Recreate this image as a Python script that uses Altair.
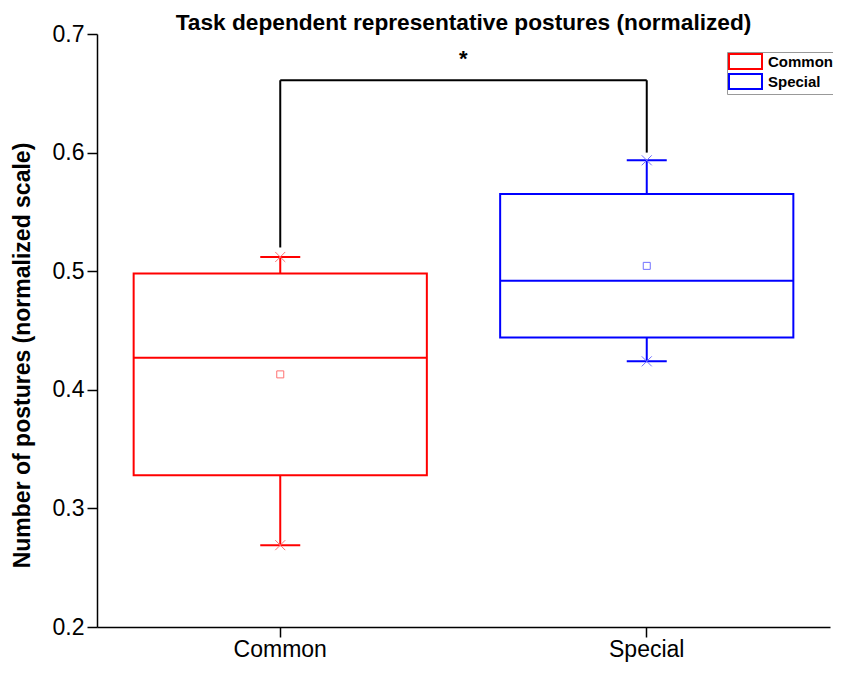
import altair as alt
import pandas as pd

# ---- data ----
groups = ["Common", "Special"]
whisker_low = [0.269, 0.424]
q1 = [0.328, 0.444]
median = [0.427, 0.492]
mean = [0.413, 0.5045]
q3 = [0.498, 0.565]
whisker_high = [0.512, 0.5935]
bracket_low = [0.520, 0.600]
bracket_top = 0.661
star_level = 0.679

colors = ["#ff0000", "#0000ff"]
light = ["#ff7070", "#7070ff"]

FONT = "Liberation Sans"

df = pd.DataFrame({
    "group": groups,
    "wlo": whisker_low,
    "q1": q1,
    "median": median,
    "mean": mean,
    "q3": q3,
    "whi": whisker_high,
    "blo": bracket_low,
    "btop": [bracket_top] * len(groups),
})
ends = pd.DataFrame({
    "group": groups + groups,
    "v": whisker_low + whisker_high,
})
bracket = pd.DataFrame({"g1": [groups[0]], "g2": [groups[1]], "y": [bracket_top]})
star = pd.DataFrame({"group": [groups[0]], "y": [star_level], "t": ["*"]})

xscale = alt.Scale(domain=groups, paddingInner=0.2, paddingOuter=0.1)
yscale = alt.Scale(domain=[0.2, 0.7], nice=False, zero=False, padding=0)
cscale = alt.Scale(domain=groups, range=colors)
lscale = alt.Scale(domain=groups, range=light)

X = alt.X("group:N", scale=xscale, sort=groups,
          axis=alt.Axis(title=None, labelAngle=0, labelPadding=1))
Y_AX = alt.Axis(title="Number of postures (normalized scale)", values=[0.2, 0.3, 0.4, 0.5, 0.6, 0.7],
                format=".1f", titleFontSize=23, titleFontWeight="bold", titleFont=FONT,
                titlePadding=18, labelPadding=3, titleY=321)

base = alt.Chart(df)

boxes = base.mark_bar(fill="transparent", strokeWidth=2).encode(
    x=X,
    y=alt.Y("q1:Q", scale=yscale, axis=Y_AX),
    y2="q3:Q",
    stroke=alt.Stroke("group:N", scale=cscale, legend=alt.Legend(
        title=None, orient="none", legendX=630, legendY=18,
        symbolType="M-2.2,-1H2.2V1H-2.2Z", symbolSize=225, symbolStrokeWidth=2,
        symbolFillColor="white", symbolOffset=9, labelOffset=14,
        labelFont=FONT, labelFontSize=15, labelFontWeight="bold", labelColor="black",
        strokeColor="#999999", fillColor="white", padding=1, rowPadding=-5)),
)

med = base.mark_tick(size=293, thickness=2, opacity=1).encode(
    x=X, y=alt.Y("median:Q", scale=yscale),
    color=alt.Color("group:N", scale=cscale, legend=None))

w_up = base.mark_rule(strokeWidth=2).encode(
    x=X, y=alt.Y("q3:Q", scale=yscale), y2="whi:Q",
    color=alt.Color("group:N", scale=cscale, legend=None))
w_dn = base.mark_rule(strokeWidth=2).encode(
    x=X, y=alt.Y("wlo:Q", scale=yscale), y2="q1:Q",
    color=alt.Color("group:N", scale=cscale, legend=None))

caps = alt.Chart(ends).mark_tick(size=40, thickness=2, opacity=1).encode(
    x=X, y=alt.Y("v:Q", scale=yscale),
    color=alt.Color("group:N", scale=cscale, legend=None))

crosses = alt.Chart(ends).mark_point(
    shape="M-1,-1L1,1M-1,1L1,-1", size=100, strokeWidth=1, filled=False, opacity=1).encode(
    x=X, y=alt.Y("v:Q", scale=yscale),
    stroke=alt.Stroke("group:N", scale=lscale, legend=None))

means = base.mark_point(shape="square", size=49, strokeWidth=1, filled=False, opacity=1).encode(
    x=X, y=alt.Y("mean:Q", scale=yscale),
    stroke=alt.Stroke("group:N", scale=lscale, legend=None))

br_v = base.mark_rule(strokeWidth=2, color="black").encode(
    x=X, y=alt.Y("blo:Q", scale=yscale), y2="btop:Q")
br_h = alt.Chart(bracket).mark_rule(strokeWidth=2, color="black").encode(
    x=alt.X("g1:N", scale=xscale), x2="g2:N", y=alt.Y("y:Q", scale=yscale))

star_t = alt.Chart(star).mark_text(
    fontSize=22, fontWeight="bold", font=FONT, dx=183, baseline="middle", color="black").encode(
    x=alt.X("group:N", scale=xscale), y=alt.Y("y:Q", scale=yscale), text="t:N")

chart = alt.layer(boxes, w_up, w_dn, caps, crosses, med, means, br_v, br_h, star_t).resolve_scale(
    stroke="independent"
).properties(
    width=733, height=593,
    title=alt.TitleParams("Task dependent representative postures (normalized)",
                          fontSize=22.7, fontWeight="bold", font=FONT, color="black",
                          anchor="middle", frame="group", offset=-12),
    autosize=alt.AutoSizeParams(type="none"),
    padding={"left": 89, "top": 26, "right": 3, "bottom": 35},
).configure_view(stroke=None).configure_axis(
    grid=False, domainColor="black", domainWidth=1.5, tickColor="black", tickWidth=1.5,
    tickSize=10, labelFontSize=23, labelFont=FONT, labelColor="black", titleColor="black",
)

chart.save("out.html", embed_options={"renderer": "svg", "actions": False})
